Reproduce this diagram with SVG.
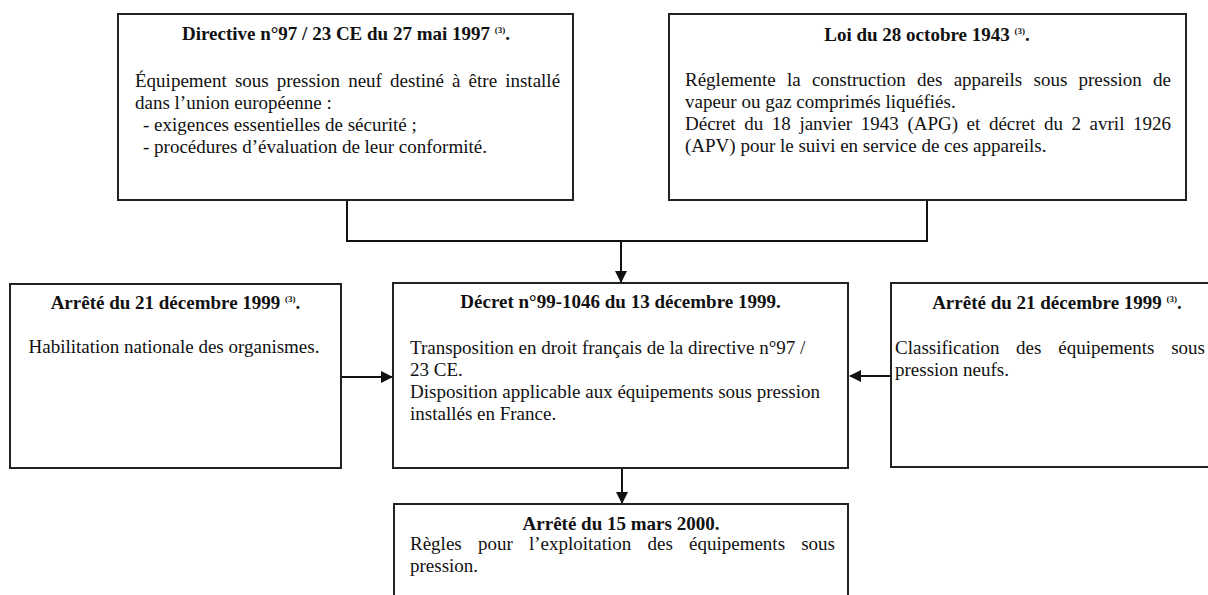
<svg xmlns="http://www.w3.org/2000/svg" width="1208" height="595" viewBox="0 0 1208 595">
<style>
.box{fill:#fff;stroke:#222;stroke-width:2}
.t{font-family:"Liberation Serif","Times New Roman",serif;font-size:19px;fill:#111}
.b{font-weight:bold}
.m{text-anchor:middle}
.sup{font-size:9px}
.c{fill:none;stroke:#111;stroke-width:2}
</style>
<defs>
<marker id="ah" markerWidth="12" markerHeight="12" refX="11" refY="6" orient="auto" markerUnits="userSpaceOnUse">
<path d="M0,0 L12,6 L0,12 Z" fill="#111"/>
</marker>
</defs>
<rect width="1208" height="595" fill="#fff"/>

<g id="connectors">
<polyline class="c" points="347,201 347,241 927,241 927,201"/>
<line class="c" x1="621" y1="241" x2="621" y2="282" marker-end="url(#ah)"/>
<line class="c" x1="341" y1="377" x2="392" y2="377" marker-end="url(#ah)"/>
<line class="c" x1="891" y1="376" x2="850" y2="376" marker-end="url(#ah)"/>
<line class="c" x1="622" y1="469" x2="622" y2="503" marker-end="url(#ah)"/>
</g>

<g id="directive">
<rect class="box" x="118" y="14" width="455" height="186"/>
<text class="t b m" x="346" y="40">Directive n°97 / 23 CE du 27 mai 1997 <tspan class="sup" dy="-7">(3)</tspan><tspan dy="7">.</tspan></text>
<text class="t" y="87"><tspan x="135">Équipement</tspan><tspan x="234.9">sous</tspan><tspan x="276.8">pression</tspan><tspan x="348.2">neuf</tspan><tspan x="390.1">destiné</tspan><tspan x="452">à</tspan><tspan x="468.6">être</tspan><tspan x="505.2">installé</tspan></text>
<text class="t" x="135" y="109">dans l’union européenne :</text>
<text class="t" x="143" y="131">- exigences essentielles de sécurité ;</text>
<text class="t" x="143" y="153">- procédures d’évaluation de leur conformité.</text>
</g>

<g id="loi">
<rect class="box" x="669" y="14" width="517" height="186"/>
<text class="t b m" x="927" y="41">Loi du 28 octobre 1943 <tspan class="sup" dy="-7">(3)</tspan><tspan dy="7">.</tspan></text>
<text class="t" y="86"><tspan x="685">Réglemente</tspan><tspan x="787">la</tspan><tspan x="811.9">construction</tspan><tspan x="917.1">des</tspan><tspan x="953.7">appareils</tspan><tspan x="1033.5">sous</tspan><tspan x="1078.5">pression</tspan><tspan x="1153.1">de</tspan></text>
<text class="t" x="685" y="108">vapeur ou gaz comprimés liquéfiés.</text>
<text class="t" y="130"><tspan x="685">Décret</tspan><tspan x="744.2">du</tspan><tspan x="771.8">18</tspan><tspan x="799.4">janvier</tspan><tspan x="860.8">1943</tspan><tspan x="907.4">(APG)</tspan><tspan x="966.6">et</tspan><tspan x="988.9">décret</tspan><tspan x="1043.9">du</tspan><tspan x="1071.5">2</tspan><tspan x="1089.6">avril</tspan><tspan x="1133">1926</tspan></text>
<text class="t" x="685" y="152">(APV) pour le suivi en service de ces appareils.</text>
</g>

<g id="arrete-habilitation">
<rect class="box" x="10" y="284" width="331" height="184"/>
<text class="t b m" x="175.5" y="309">Arrêté du 21 décembre 1999 <tspan class="sup" dy="-7">(3)</tspan><tspan dy="7">.</tspan></text>
<text class="t m" x="174" y="353">Habilitation nationale des organismes.</text>
</g>

<g id="decret">
<rect class="box" x="393" y="283" width="455" height="185"/>
<text class="t b m" x="620.5" y="308">Décret n°99-1046 du 13 décembre 1999.</text>
<text class="t" x="410" y="354">Transposition en droit français de la directive n°97 /</text>
<text class="t" x="410" y="376">23 CE.</text>
<text class="t" x="410" y="398">Disposition applicable aux équipements sous pression</text>
<text class="t" x="410" y="420">installés en France.</text>
</g>

<g id="arrete-classification">
<rect class="box" x="891" y="283" width="332" height="184"/>
<text class="t b m" x="1057" y="309">Arrêté du 21 décembre 1999 <tspan class="sup" dy="-7">(3)</tspan><tspan dy="7">.</tspan></text>
<text class="t" y="354"><tspan x="895">Classification</tspan><tspan x="1016.1">des</tspan><tspan x="1058.3">équipements</tspan><tspan x="1171.2">sous</tspan></text>
<text class="t" x="895" y="376">pression neufs.</text>
</g>

<g id="arrete-2000">
<rect class="box" x="394" y="504" width="454" height="110"/>
<text class="t b m" x="621" y="530">Arrêté du 15 mars 2000.</text>
<text class="t" y="550"><tspan x="410">Règles</tspan><tspan x="477.9">pour</tspan><tspan x="528.9">l’exploitation</tspan><tspan x="647.5">des</tspan><tspan x="689">équipements</tspan><tspan x="801.2">sous</tspan></text>
<text class="t" x="410" y="572">pression.</text>
</g>
</svg>
